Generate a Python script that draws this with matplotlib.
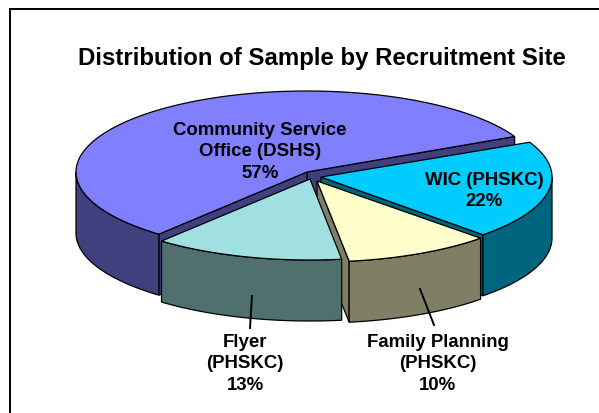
import numpy as np
import matplotlib
matplotlib.use("Agg")
import matplotlib.pyplot as plt
from matplotlib.patches import Polygon

plt.rcParams['font.family'] = ['Liberation Sans', 'DejaVu Sans']

# slices in drawing order, back to front
nomes = ["Community Service\nOffice (DSHS)\n57%", "WIC (PHSKC)\n22%",
         "Family Planning\n(PHSKC)\n10%", "Flyer\n(PHSKC)\n13%"]
# shares (the printed labels add up to 102)
fatias = [56.7, 19.7, 10.3, 13.3]
topo = ['#8080FF', '#00CCFF', '#FFFFCC', '#A0E0E0']
lado = ['#40407F', '#00667F', '#7F7F66', '#507070']
inicio = [26, 314.5, 278, 230]
apices = [(307, 173), (321, 178), (317, 182), (310, 180)]
pos_texto = [(260, 152), (484, 191), (438, 364), (245, 364)]
linhas = [None, None, ((420, 290), (434, 326)), ((252, 297), (250, 329))]

RX, RY, ALTURA = 231, 81, 61

fig = plt.figure(figsize=(5.99, 4.14), dpi=100)
ax = fig.add_axes([0, 0, 1, 1])
ax.set_xlim(0, 599)
ax.set_ylim(414, 0)
ax.axis('off')


def borda(ap, t):
    t = np.radians(t)
    return np.column_stack([ap[0] + RX * np.cos(t), ap[1] - RY * np.sin(t)])


def parede(pts, cor, z):
    baixo = pts[::-1] + [0, ALTURA]
    ax.add_patch(Polygon(np.vstack([pts, baixo]), closed=True, fc=cor, ec='black', lw=0.9, zorder=z))


for i in range(len(fatias)):
    t0 = inicio[i]
    t1 = t0 + fatias[i] * 3.6
    ap = np.array(apices[i], dtype=float)
    z = i * 3 + 1
    arco = borda(ap, np.linspace(t0, t1, 120))
    meio = arco[60] - ap
    # paredes do corte, so as que ficam de frente
    for p in (arco[0], arco[-1]):
        d = (p - ap) * np.sign(p[0] - ap[0])
        if d[0] * meio[1] - d[1] * meio[0] < 0:
            parede(np.vstack([ap, p]), lado[i], z)
    # parede externa, so a parte da frente (180 a 360 graus)
    for g in (0, 360):
        a, b = max(t0, 180 + g), min(t1, 360 + g)
        if b > a:
            parede(borda(ap, np.linspace(a, b, 80)), lado[i], z + 1)
    ax.add_patch(Polygon(np.vstack([ap, arco]), closed=True, fc=topo[i], ec='black', lw=0.9, zorder=z + 2))

for i, nome in enumerate(nomes):
    ax.text(pos_texto[i][0], pos_texto[i][1], nome, ha='center', va='center', fontsize=13.4,
            fontweight='bold', color='black', linespacing=1.33, zorder=20)
    if linhas[i]:
        ax.plot([linhas[i][0][0], linhas[i][1][0]], [linhas[i][0][1], linhas[i][1][1]],
                color='black', lw=1.4, zorder=20)

ax.text(322, 58, "Distribution of Sample by Recruitment Site", ha='center', va='center',
        fontsize=17.3, fontweight='bold', color='black')

# moldura
ax.plot([9.5, 9.5], [414, 9.5], color='black', lw=1.4)
ax.plot([9.5, 599], [9.5, 9.5], color='black', lw=1.4)

fig.savefig("out.png", dpi=100)
